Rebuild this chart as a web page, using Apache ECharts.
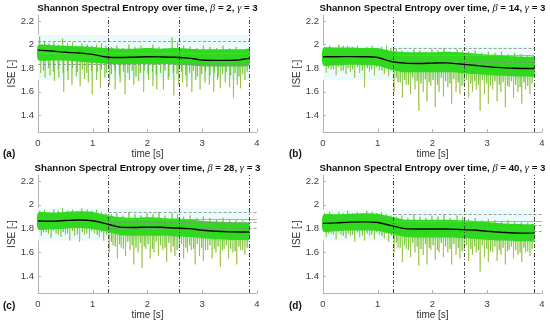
<!DOCTYPE html>
<html><head><meta charset="utf-8">
<script src="https://cdn.jsdelivr.net/npm/echarts@6/dist/echarts.min.js"></script>
<style>html,body{margin:0;padding:0;background:#fff}#c{width:550px;height:324px}</style>
</head><body><div id="c"></div><script>
// ---------- data ----------
const panelLabels = ['(a)', '(b)', '(c)', '(d)'];
const betas = ['2', '14', '28', '40'];
const gammaVal = '3';
const xTicks = [0, 1, 2, 3, 4];
const yTicks = [1.4, 1.6, 1.8, 2.0, 2.2];
const segBounds = [1.29, 2.58, 3.86];

const tGrid = [0,0.25,0.5,0.75,1,1.25,1.5,1.75,2,2.25,2.5,2.75,3,3.25,3.5,3.75,3.86];

const meanA = [1.953,1.945,1.935,1.928,1.917,1.895,1.890,1.893,1.897,1.895,1.892,1.885,1.869,1.866,1.866,1.875,1.883];
const upA   = [1.995,1.995,1.99,1.985,1.98,1.97,1.965,1.965,1.97,1.965,1.97,1.965,1.96,1.96,1.96,1.96,1.965];
const loA   = [1.87,1.865,1.865,1.855,1.845,1.835,1.83,1.835,1.835,1.835,1.83,1.825,1.815,1.815,1.815,1.815,1.825];

const meanB = [1.897,1.897,1.898,1.897,1.890,1.857,1.843,1.840,1.843,1.845,1.835,1.825,1.813,1.805,1.799,1.797,1.797];
const upB   = [1.97,1.975,1.975,1.97,1.97,1.945,1.935,1.935,1.935,1.94,1.935,1.925,1.915,1.91,1.9,1.895,1.895];
const loB   = [1.825,1.825,1.83,1.825,1.82,1.785,1.765,1.765,1.765,1.765,1.76,1.75,1.74,1.735,1.73,1.73,1.73];

const meanC = [1.864,1.862,1.868,1.873,1.866,1.840,1.813,1.810,1.813,1.812,1.805,1.800,1.787,1.778,1.773,1.772,1.772];
const upC   = [1.935,1.935,1.94,1.945,1.94,1.915,1.895,1.89,1.895,1.89,1.885,1.88,1.865,1.86,1.855,1.85,1.85];
const loC   = [1.795,1.795,1.80,1.805,1.795,1.775,1.745,1.74,1.74,1.74,1.735,1.73,1.72,1.71,1.705,1.705,1.705];

const meanD = [1.844,1.848,1.855,1.857,1.852,1.825,1.800,1.797,1.798,1.797,1.793,1.788,1.778,1.770,1.764,1.762,1.762];
const upD   = [1.915,1.92,1.925,1.93,1.925,1.90,1.875,1.875,1.875,1.875,1.87,1.865,1.855,1.845,1.84,1.835,1.835];
const loD   = [1.775,1.78,1.785,1.785,1.78,1.755,1.73,1.725,1.725,1.725,1.72,1.715,1.705,1.70,1.695,1.695,1.695];

// deep downward spikes
const downTA = [0.05,0.13,0.22,0.3,0.38,0.47,0.55,0.62,0.7,0.77,0.85,0.92,0.99,1.07,1.14,1.22,1.31,1.41,1.5,1.59,1.67,1.75,1.84,1.93,2.02,2.1,2.17,2.29,2.38,2.48,2.57,2.64,2.72,2.81,2.88,2.96,3.05,3.13,3.21,3.28,3.33,3.42,3.5,3.57,3.64,3.7,3.78];
const downVA = [1.76,1.72,1.74,1.69,1.72,1.6,1.7,1.66,1.73,1.65,1.71,1.68,1.58,1.7,1.63,1.72,1.66,1.62,1.68,1.58,1.7,1.66,1.69,1.6,1.7,1.65,1.62,1.62,1.7,1.57,1.66,1.68,1.64,1.6,1.7,1.62,1.68,1.66,1.6,1.7,1.63,1.68,1.64,1.55,1.66,1.63,1.7];
const downTBCD = [0.06,0.15,0.24,0.33,0.42,0.5,0.58,0.67,0.76,0.85,0.94,1.03,1.12,1.2,1.3,1.37,1.45,1.52,1.6,1.68,1.75,1.83,1.9,1.97,2.05,2.12,2.2,2.28,2.35,2.43,2.5,2.58,2.66,2.73,2.8,2.87,2.95,3.02,3.1,3.18,3.25,3.33,3.4,3.48,3.56,3.63,3.7,3.78];
const downVB = [1.76,1.79,1.74,1.78,1.75,1.77,1.72,1.76,1.64,1.77,1.74,1.78,1.75,1.73,1.6,1.68,1.55,1.66,1.58,1.62,1.44,1.6,1.52,1.65,1.47,1.6,1.56,1.64,1.5,1.6,1.58,1.66,1.55,1.6,1.62,1.44,1.58,1.5,1.62,1.52,1.6,1.47,1.64,1.55,1.6,1.5,1.62,1.58];
const downVC = [1.74,1.77,1.72,1.76,1.73,1.75,1.7,1.74,1.69,1.75,1.72,1.76,1.73,1.7,1.6,1.66,1.55,1.64,1.57,1.62,1.5,1.6,1.47,1.63,1.55,1.6,1.57,1.62,1.52,1.6,1.57,1.64,1.55,1.6,1.62,1.5,1.57,1.53,1.62,1.55,1.6,1.48,1.63,1.55,1.6,1.5,1.62,1.58];
const downVD = [1.73,1.76,1.71,1.75,1.72,1.74,1.69,1.73,1.7,1.74,1.71,1.75,1.72,1.69,1.6,1.64,1.52,1.63,1.56,1.6,1.49,1.58,1.5,1.62,1.54,1.6,1.56,1.6,1.5,1.58,1.55,1.62,1.53,1.58,1.6,1.44,1.56,1.52,1.6,1.53,1.58,1.5,1.62,1.55,1.58,1.52,1.6,1.57];

// shallower downward spikes
const minorT  = [0.1,0.19,0.28,0.37,0.46,0.54,0.63,0.72,0.81,0.89,0.98,1.08,1.16,1.25,1.34,1.41,1.49,1.56,1.64,1.72,1.79,1.87,1.94,2.01,2.09,2.16,2.24,2.32,2.39,2.47,2.54,2.62,2.7,2.77,2.84,2.91,2.99,3.06,3.14,3.22,3.29,3.37,3.44,3.52,3.6,3.67,3.74,3.82];
const minorVA = [1.78,1.8,1.77,1.79,1.76,1.78,1.8,1.77,1.79,1.76,1.78,1.77,1.79,1.76,1.75,1.78,1.74,1.77,1.76,1.78,1.73,1.76,1.78,1.75,1.77,1.74,1.76,1.78,1.73,1.76,1.75,1.77,1.74,1.76,1.78,1.73,1.75,1.77,1.74,1.76,1.73,1.75,1.77,1.74,1.76,1.73,1.75,1.77];
const minorVB = [1.8,1.79,1.81,1.78,1.8,1.79,1.81,1.78,1.8,1.79,1.81,1.78,1.8,1.78,1.72,1.68,1.7,1.66,1.72,1.69,1.67,1.71,1.68,1.7,1.66,1.72,1.69,1.67,1.71,1.68,1.65,1.7,1.67,1.69,1.66,1.7,1.67,1.65,1.69,1.66,1.68,1.65,1.69,1.66,1.64,1.68,1.65,1.67];
const minorVC = [1.77,1.76,1.78,1.75,1.77,1.76,1.78,1.75,1.77,1.76,1.78,1.75,1.77,1.75,1.69,1.65,1.67,1.63,1.69,1.66,1.64,1.68,1.65,1.67,1.63,1.69,1.66,1.64,1.68,1.65,1.62,1.67,1.64,1.66,1.63,1.67,1.64,1.62,1.66,1.63,1.65,1.62,1.66,1.63,1.61,1.65,1.62,1.64];
const minorVD = [1.76,1.75,1.77,1.74,1.76,1.75,1.77,1.74,1.76,1.75,1.77,1.74,1.76,1.74,1.68,1.64,1.66,1.62,1.68,1.65,1.63,1.67,1.64,1.66,1.62,1.68,1.65,1.63,1.67,1.64,1.61,1.66,1.63,1.65,1.62,1.66,1.63,1.61,1.65,1.62,1.64,1.61,1.65,1.62,1.6,1.64,1.61,1.63];

// upward spikes
const upT  = [0.03,0.12,0.2,0.29,0.37,0.45,0.54,0.63,0.71,0.8,0.9,0.98,1.07,1.16,1.24,1.34,1.44,1.55,1.66,1.77,1.88,1.99,2.1,2.21,2.32,2.45,2.55,2.66,2.78,2.9,3.02,3.14,3.26,3.38,3.5,3.62,3.74];
const upVA = [2.07,2.03,2.01,2.02,2.0,2.05,2.01,2.02,1.99,2.01,2.0,1.99,2.0,2.01,1.99,1.98,1.99,1.97,2.0,1.98,1.99,1.97,2.0,1.98,1.97,2.06,2.02,1.99,1.98,1.97,1.99,1.98,1.97,1.99,1.97,1.98,1.96];
const upVB = [1.98,1.99,1.97,2.0,1.99,1.99,1.98,1.99,1.97,1.98,1.99,1.97,1.98,1.99,1.97,1.96,1.95,1.94,1.96,1.95,1.94,1.96,1.95,1.97,1.94,1.96,1.95,1.94,1.95,1.93,1.94,1.93,1.94,1.92,1.93,1.92,1.91];
const upVC = [1.95,1.96,1.94,1.96,1.95,1.97,1.95,1.96,1.94,1.97,1.96,1.95,1.96,1.94,1.93,1.92,1.93,1.91,1.94,1.92,1.91,1.93,1.92,1.94,1.91,1.93,1.92,1.9,1.91,1.89,1.9,1.89,1.88,1.89,1.88,1.87,1.87];
const upVD = [1.93,1.94,1.92,1.94,1.93,1.95,1.93,1.94,1.92,1.95,1.94,1.93,1.94,1.92,1.91,1.9,1.91,1.89,1.92,1.9,1.89,1.91,1.9,1.92,1.89,1.91,1.9,1.88,1.89,1.87,1.88,1.87,1.86,1.87,1.86,1.85,1.85];

// reference levels
const hDashA = [2.03, 1.83], hSolidA = [1.93], hStartA = 0,    hEndA = 3.86;
const hDashB = [1.97, 1.85], hSolidB = [1.91], hStartB = 1.29, hEndB = 3.86;
const hDashC = [1.94, 1.85, 1.80], hSolidC = [1.88], hStartC = 1.29, hEndC = 4;
const hDashD = [1.92, 1.83, 1.78], hSolidD = [1.86], hStartD = 1.29, hEndD = 4;

// faint tint band behind the signal
const tintA = [1.70, 2.08], tintB = [1.70, 1.99], tintC = [1.70, 1.97], tintD = [1.70, 1.96];

// ---------- build ----------
const panels = [
  {mean: meanA, up: upA, lo: loA, dT: downTA, dV: downVA, mV: minorVA, uV: upVA, hd: hDashA, hs: hSolidA, h0: hStartA, h1: hEndA, tint: tintA},
  {mean: meanB, up: upB, lo: loB, dT: downTBCD, dV: downVB, mV: minorVB, uV: upVB, hd: hDashB, hs: hSolidB, h0: hStartB, h1: hEndB, tint: tintB},
  {mean: meanC, up: upC, lo: loC, dT: downTBCD, dV: downVC, mV: minorVC, uV: upVC, hd: hDashC, hs: hSolidC, h0: hStartC, h1: hEndC, tint: tintC},
  {mean: meanD, up: upD, lo: loD, dT: downTBCD, dV: downVD, mV: minorVD, uV: upVD, hd: hDashD, hs: hSolidD, h0: hStartD, h1: hEndD, tint: tintD}
];
const gridPos = [
  {left: 38, top: 15, width: 219, height: 117},
  {left: 323, top: 15, width: 219, height: 117},
  {left: 38, top: 175, width: 219, height: 118},
  {left: 323, top: 175, width: 219, height: 118}
];
const FONT = 'Liberation Sans, Arial, sans-serif';
const axisCol = '#b4b4b4';
const labCol = '#3c3c3c';

function nearestIdx(t) {
  let b = 0;
  for (let i = 0; i < tGrid.length; i++) if (Math.abs(tGrid[i] - t) < Math.abs(tGrid[b] - t)) b = i;
  return b;
}
function spikes(p, ts, vs, hw) {
  const out = [];
  ts.forEach((t, k) => {
    if (vs[k] === undefined) return;
    const j = nearestIdx(t), base = (p.up[j] + p.lo[j]) / 2;
    out.push({coords: [[t - hw, base], [t, vs[k]], [t + hw, base]]});
  });
  return out;
}

const grid = [], xAxis = [], yAxis = [], series = [], graphic = [];
panels.forEach((p, i) => {
  const g = gridPos[i];
  grid.push(Object.assign({containLabel: false}, g));
  xAxis.push({
    type: 'value', gridIndex: i, min: 0, max: 4, interval: 1,
    name: 'time [s]', nameLocation: 'middle', nameGap: 16,
    nameTextStyle: {fontFamily: FONT, fontSize: 10, color: '#333'},
    axisLine: {show: true, lineStyle: {color: axisCol, width: 1}},
    axisTick: {show: true, inside: true, length: 3, lineStyle: {color: axisCol}},
    axisLabel: {fontFamily: FONT, fontSize: 9.5, color: labCol, margin: 6},
    splitLine: {show: false}
  });
  yAxis.push({
    type: 'value', gridIndex: i, min: 1.26, max: 2.25,
    name: 'ISE [-]', nameLocation: 'middle', nameGap: 18,
    nameTextStyle: {fontFamily: FONT, fontSize: 10, color: '#333'},
    axisLine: {show: true, lineStyle: {color: axisCol, width: 1}},
    axisTick: {show: true, inside: true, length: 3, customValues: yTicks, lineStyle: {color: axisCol}},
    axisLabel: {fontFamily: FONT, fontSize: 9.5, color: labCol, margin: 4, customValues: yTicks},
    splitLine: {show: false}
  });
  graphic.push({
    type: 'text', x: g.left + g.width / 2, y: i < 2 ? 8 : 168,
    style: {
      text: '{b|Shannon Spectral Entropy over time, }{i|β}{b| = ' + betas[i] + ', }{i|γ}{b| = ' + gammaVal + '}',
      align: 'center', verticalAlign: 'middle',
      rich: {
        b: {fontFamily: FONT, fontWeight: 'bold', fontSize: 9.7, fill: '#111'},
        i: {fontFamily: 'Liberation Serif, serif', fontStyle: 'italic', fontSize: 10.5, fill: '#111'}
      }
    }
  });
  graphic.push({
    type: 'text', left: i % 2 === 0 ? 3 : 289, top: i < 2 ? 149 : 301,
    style: {text: panelLabels[i], font: 'bold 10px ' + FONT, fill: '#111'}
  });

  const ax = {xAxisIndex: i, yAxisIndex: i};
  const hLines = [];
  p.hd.forEach(v => hLines.push([{coord: [p.h0, v], lineStyle: {type: [3, 2], color: '#8a8a8a', width: 0.8}}, {coord: [p.h1, v]}]));
  p.hs.forEach(v => hLines.push([{coord: [p.h0, v], lineStyle: {type: 'solid', color: '#a0a0a0', width: 0.8}}, {coord: [p.h1, v]}]));
  series.push(Object.assign({
    type: 'line', data: tGrid.map((t, k) => [t, p.mean[k]]), symbol: 'none', silent: true, z: 1,
    lineStyle: {opacity: 0},
    markArea: {silent: true, itemStyle: {color: '#ebfbfc'}, data: [[{coord: [0, p.tint[0]]}, {coord: [3.86, p.tint[1]]}]]},
    markLine: {silent: true, symbol: 'none', label: {show: false}, data: hLines}
  }, ax));
  // deep spikes
  series.push(Object.assign({
    type: 'lines', coordinateSystem: 'cartesian2d', polyline: true, silent: true, z: 2,
    lineStyle: {color: '#8fbb2a', width: 0.9, opacity: 0.75},
    data: spikes(p, p.dT, p.dV, 0.007)
  }, ax));
  // shallow spikes
  series.push(Object.assign({
    type: 'lines', coordinateSystem: 'cartesian2d', polyline: true, silent: true, z: 2,
    lineStyle: {color: '#5cc628', width: 0.9, opacity: 0.8},
    data: spikes(p, minorT, p.mV, 0.008)
  }, ax));
  // upward fuzz
  series.push(Object.assign({
    type: 'lines', coordinateSystem: 'cartesian2d', polyline: true, silent: true, z: 2,
    lineStyle: {color: '#74bf2a', width: 0.9, opacity: 0.8},
    data: spikes(p, upT, p.uV, 0.006)
  }, ax));
  // dense band (polygon between lower and upper envelopes)
  series.push(Object.assign({
    type: 'custom', silent: true, z: 3,
    data: tGrid.map((t, k) => [t, p.lo[k], p.up[k]]),
    encode: {x: 0, y: [1, 2]},
    renderItem: (params, api) => {
      if (params.dataIndex !== 0) return null;
      const pts = [];
      for (let k = 0; k < tGrid.length; k++) pts.push(api.coord([tGrid[k], p.up[k]]));
      for (let k = tGrid.length - 1; k >= 0; k--) pts.push(api.coord([tGrid[k], p.lo[k]]));
      return {type: 'polygon', shape: {points: pts, smooth: 0.2}, style: {fill: '#30d820'}};
    }
  }, ax));
  // mean line + segment boundaries
  series.push(Object.assign({
    type: 'line', symbol: 'none', silent: true, z: 6, smooth: 0.3,
    lineStyle: {color: '#0a0a0a', width: 1.4},
    data: tGrid.map((t, k) => [t, p.mean[k]]),
    markLine: {silent: true, symbol: 'none', label: {show: false},
      lineStyle: {type: [4, 2, 1, 2], color: '#4a4a4a', width: 1},
      data: segBounds.map(b => ({xAxis: b}))}
  }, ax));
});

const chart = echarts.init(document.getElementById('c'), null, {renderer: 'canvas'});
chart.setOption({animation: false, backgroundColor: '#fff', grid, xAxis, yAxis, graphic, series});
</script></body></html>
